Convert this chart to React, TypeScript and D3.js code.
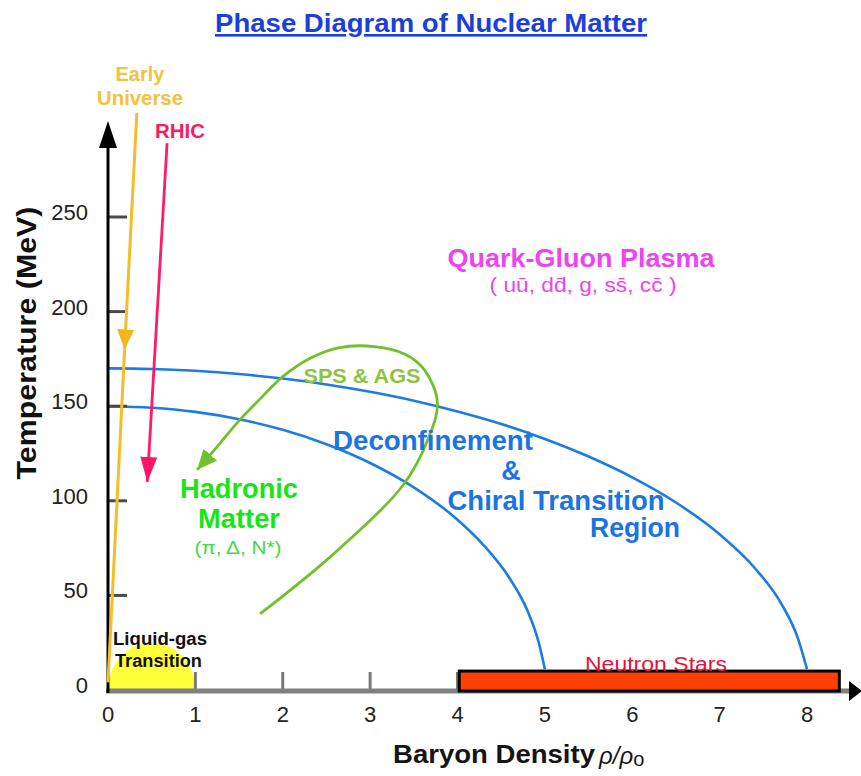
import React from 'react';
import * as d3 from 'd3';

// ---------- data ----------
const xTicks = [0, 1, 2, 3, 4, 5, 6, 7, 8];
const yTicks = [0, 50, 100, 150, 200, 250];

// outer boundary (deconfinement, upper edge) [rho/rho0, T MeV]
const outerBoundary: [number, number][] = [
  [0, 170], [0.5, 169.7], [1, 168.7], [1.5, 167], [2, 164.6], [2.5, 161.5],
  [3, 157.6], [3.5, 152.9], [4, 147.2], [4.5, 140.6], [5, 132.7], [5.5, 123.4],
  [6, 112.4], [6.5, 99.1], [7, 82.3], [7.4, 64.6], [7.7, 46.1], [7.9, 26.8], [8, 11],
];
// inner boundary (lower edge)
const innerBoundary: [number, number][] = [
  [0, 150], [0.5, 149.2], [1, 147], [1.5, 143.1], [2, 137.5], [2.5, 129.9],
  [3, 120], [3.5, 107.1], [4, 90], [4.3, 76.5], [4.6, 58.8], [4.8, 42],
  [4.93, 25], [5, 11],
];
// SPS & AGS trajectory
const spsAgs: [number, number][] = [
  [1.74, 40.2], [2.57, 71.4], [3.38, 108.5], [3.66, 132.3], [3.77, 152],
  [3.62, 169.3], [3.4, 177.5], [3.05, 181.5], [2.65, 181.0], [2.33, 175.7],
  [2.0, 165.6], [1.7, 151.9], [1.48, 141.3], [1.25, 128.6], [1.02, 116.4],
];
// Early universe trajectory: start, arrow tip, end
const earlyUniverse: [number, number][] = [[0.33, 305], [0.19, 180], [0.0, 4]];
// RHIC trajectory: start, arrow tip
const rhic: [number, number][] = [[0.676, 289], [0.45, 110]];
// Liquid-gas region (half ellipse): center rho, half-width, height
const liquidGas = { center: 0.5, halfWidth: 0.5, height: 25 };
// Neutron stars band
const neutronStars = { from: 4.02, to: 8.37, top: 10 };

const FONT = "'Liberation Sans', Arial, Helvetica, sans-serif";

export default function App() {
  const W = 861, H = 776;
  const x = d3.scaleLinear().domain([0, 8]).range([108, 807]);
  const y = d3.scaleLinear().domain([0, 250]).range([690, 217]);

  const lineMono = d3.line<[number, number]>().x(d => x(d[0])).y(d => y(d[1])).curve(d3.curveMonotoneX);
  const lineCR = d3.line<[number, number]>().x(d => x(d[0])).y(d => y(d[1])).curve(d3.curveCatmullRom.alpha(0.5));
  const lineStraight = d3.line<[number, number]>().x(d => x(d[0])).y(d => y(d[1]));

  const blue = '#1e7be6';
  const x0 = x(0);
  const yAxisTop = 121;
  const xAxisRight = 862;

  return (
    <svg width={W} height={H} style={{ position: 'absolute', left: 0, top: 0, background: '#fff' }} fontFamily={FONT}>
      <defs>
        <marker id="arrYellow" markerUnits="userSpaceOnUse" viewBox="0 0 20 17" refX={20} refY={8.5} markerWidth={20} markerHeight={17} orient="auto">
          <path d="M0,0 L20,8.5 L0,17 Z" fill="#f5b418" />
        </marker>
        <marker id="arrPink" markerUnits="userSpaceOnUse" viewBox="0 0 25 17" refX={25} refY={8.5} markerWidth={25} markerHeight={17} orient="auto">
          <path d="M0,0 L25,8.5 L0,17 Z" fill="#ff1468" />
        </marker>
        <marker id="arrGreen" markerUnits="userSpaceOnUse" viewBox="0 0 20 18" refX={20} refY={9} markerWidth={20} markerHeight={18} orient="auto">
          <path d="M0,0 L20,9 L0,18 Z" fill="#72c02c" />
        </marker>
      </defs>

      {/* Title */}
      <text x={431} y={32} textAnchor="middle" fontSize={26} fontWeight="bold" fill="#1c3fdc"
        textLength={432} lengthAdjust="spacingAndGlyphs" style={{ textDecoration: 'underline' }}>
        Phase Diagram of Nuclear Matter
      </text>

      {/* Liquid-gas region */}
      <path
        d={`M${x(liquidGas.center - liquidGas.halfWidth)},${y(0)} A${x(liquidGas.center + liquidGas.halfWidth) - x(liquidGas.center)},${y(0) - y(liquidGas.height)} 0 0 1 ${x(liquidGas.center + liquidGas.halfWidth)},${y(0)} Z`}
        fill="#ffff3a" />

      {/* phase boundaries */}
      <path d={lineMono(outerBoundary) || ''} fill="none" stroke={blue} strokeWidth={2.6} />
      <path d={lineMono(innerBoundary) || ''} fill="none" stroke={blue} strokeWidth={2.6} />

      {/* x ticks */}
      {xTicks.filter(t => t > 0).map(t => (
        <line key={'xt' + t} x1={x(t)} x2={x(t)} y1={y(0)} y2={y(0) - 18} stroke="#7a7a7a" strokeWidth={3} />
      ))}
      {/* y ticks */}
      {yTicks.filter(t => t > 0).map(t => (
        <line key={'yt' + t} x1={x0} x2={x0 + 19} y1={y(t)} y2={y(t)} stroke="#4a4a4a" strokeWidth={3} />
      ))}

      {/* axes */}
      <line x1={x0 - 2} x2={849} y1={y(0) + 1} y2={y(0) + 1} stroke="#808080" strokeWidth={5} />
      <path d={`M849,681 L${xAxisRight},691 L849,701 Z`} fill="#000" />
      <line x1={x0} x2={x0} y1={y(0) + 3} y2={yAxisTop + 20} stroke="#000" strokeWidth={3} />
      <path d={`M${x0 - 9},148 L${x0},${yAxisTop} L${x0 + 9},148 Z`} fill="#000" />

      {/* Neutron stars band */}
      <rect x={x(neutronStars.from)} y={y(neutronStars.top)} width={x(neutronStars.to) - x(neutronStars.from)}
        height={y(0) - y(neutronStars.top) + 1} fill="#ff4000" stroke="#000" strokeWidth={3} />

      {/* Early universe */}
      <path d={lineStraight(earlyUniverse.slice(0, 2)) || ''} fill="none" stroke="#f5bd2a" strokeWidth={3} markerEnd="url(#arrYellow)" />
      <path d={lineStraight(earlyUniverse.slice(1)) || ''} fill="none" stroke="#f5bd2a" strokeWidth={3} />
      {/* RHIC */}
      <path d={lineStraight(rhic) || ''} fill="none" stroke="#ff1a6b" strokeWidth={2.8} markerEnd="url(#arrPink)" />
      {/* SPS & AGS */}
      <path d={lineCR(spsAgs) || ''} fill="none" stroke="#72c02c" strokeWidth={2.8} markerEnd="url(#arrGreen)" />

      {/* tick labels */}
      {yTicks.map(t => (
        <text key={'yl' + t} x={88} y={y(t) + 3} textAnchor="end" fontSize={22} fill="#222">{t}</text>
      ))}
      {xTicks.map(t => (
        <text key={'xl' + t} x={x(t)} y={722} textAnchor="middle" fontSize={22} fill="#222">{t}</text>
      ))}

      {/* axis titles */}
      <text transform="translate(36,343) rotate(-90)" textAnchor="middle" fontSize={28} fontWeight="bold" fill="#111"
        textLength={273} lengthAdjust="spacingAndGlyphs">Temperature (MeV)</text>
      <text x={393} y={763} fontSize={25} fontWeight="bold" fill="#151515" textLength={202} lengthAdjust="spacingAndGlyphs">Baryon Density</text>
      <text x={599} y={764} fontSize={24} fontStyle="italic" fill="#151515">ρ/ρ<tspan fontSize={20} fontStyle="normal" dy={2}>o</tspan></text>

      {/* annotations */}
      <text x={140} y={81} textAnchor="middle" fontSize={20} fontWeight="bold" fill="#f4c23c">Early</text>
      <text x={140} y={105} textAnchor="middle" fontSize={20} fontWeight="bold" fill="#f4c23c" textLength={86} lengthAdjust="spacingAndGlyphs">Universe</text>
      <text x={180} y={138} textAnchor="middle" fontSize={21} fontWeight="bold" fill="#ff1a5e" textLength={50} lengthAdjust="spacingAndGlyphs">RHIC</text>

      <text x={581} y={267} textAnchor="middle" fontSize={26} fontWeight="bold" fill="#ee44ee" textLength={267} lengthAdjust="spacingAndGlyphs">Quark-Gluon Plasma</text>
      <text x={583} y={292} textAnchor="middle" fontSize={20} fill="#ee44ee" textLength={187} lengthAdjust="spacingAndGlyphs">
        {'( u\u016B, dd\u0304, g, ss\u0304, cc\u0304 )'}
      </text>

      <text x={362} y={383} textAnchor="middle" fontSize={21} fontWeight="bold" fill="#8cc43c" textLength={117} lengthAdjust="spacingAndGlyphs">SPS &amp; AGS</text>

      <text x={433} y={450} textAnchor="middle" fontSize={27} fontWeight="bold" fill="#1a74e2" textLength={200} lengthAdjust="spacingAndGlyphs">Deconfinement</text>
      <text x={511} y={480} textAnchor="middle" fontSize={27} fontWeight="bold" fill="#1a74e2">&amp;</text>
      <text x={556} y={510} textAnchor="middle" fontSize={27} fontWeight="bold" fill="#1a74e2" textLength={217} lengthAdjust="spacingAndGlyphs">Chiral Transition</text>
      <text x={635} y={537} textAnchor="middle" fontSize={27} fontWeight="bold" fill="#1a74e2" textLength={90} lengthAdjust="spacingAndGlyphs">Region</text>

      <text x={239} y={498} textAnchor="middle" fontSize={27} fontWeight="bold" fill="#16e616" textLength={118} lengthAdjust="spacingAndGlyphs">Hadronic</text>
      <text x={239} y={528} textAnchor="middle" fontSize={27} fontWeight="bold" fill="#16e616" textLength={82} lengthAdjust="spacingAndGlyphs">Matter</text>
      <text x={238} y={554} textAnchor="middle" fontSize={19} fill="#3fdc3f" textLength={87} lengthAdjust="spacingAndGlyphs">(π, Δ, N*)</text>

      <text x={113} y={645} fontSize={18} fontWeight="bold" fill="#111" textLength={94} lengthAdjust="spacingAndGlyphs">Liquid-gas</text>
      <text x={115} y={667} fontSize={18} fontWeight="bold" fill="#111" textLength={87} lengthAdjust="spacingAndGlyphs">Transition</text>

      <text x={656} y={671} textAnchor="middle" fontSize={20} fill="#e8103a" textLength={142} lengthAdjust="spacingAndGlyphs">Neutron Stars</text>
    </svg>
  );
}
